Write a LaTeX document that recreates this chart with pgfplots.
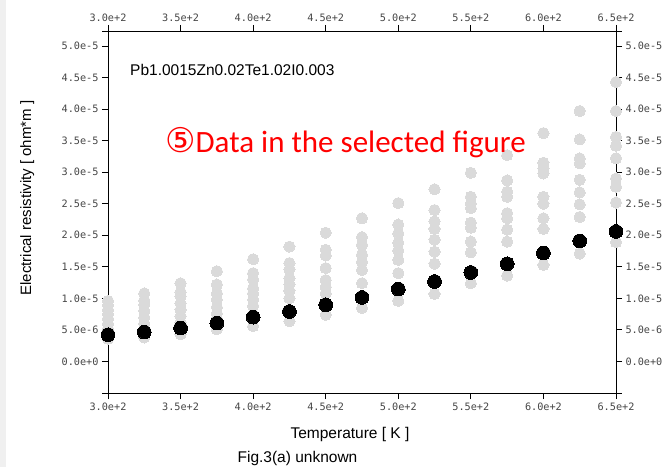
\documentclass[border=0pt]{standalone}
\usepackage{pgfplots}
\pgfplotsset{compat=1.18}
\usepackage{fontspec}
\setmainfont{Liberation Sans}
\newfontfamily\monofont{DejaVu Sans Mono}
\newfontfamily\redfont{Carlito}
\newfontfamily\symfont{DejaVu Sans}
\definecolor{tickgray}{RGB}{70,70,70}
\definecolor{dotgray}{RGB}{218,218,218}
\definecolor{stripgray}{RGB}{240,240,240}
\pgfplotsset{
  common/.style={
    at={(108bp,74bp)}, anchor=south west, scale only axis,
    width=508bp, height=362bp,
    xmin=300, xmax=650, ymin=-0.5e-5, ymax=5.238e-5,
    scaled x ticks=false, scaled y ticks=false,
    xtick={300,350,400,450,500,550,600,650},
    xticklabels={3.0e+2,3.5e+2,4.0e+2,4.5e+2,5.0e+2,5.5e+2,6.0e+2,6.5e+2},
    ytick={0,0.5e-5,1e-5,1.5e-5,2e-5,2.5e-5,3e-5,3.5e-5,4e-5,4.5e-5,5e-5},
    yticklabels={0.0e+0,5.0e-6,1.0e-5,1.5e-5,2.0e-5,2.5e-5,3.0e-5,3.5e-5,4.0e-5,4.5e-5,5.0e-5},
    tick align=outside, major tick length=6bp,
    tick style={black, line width=0.9bp},
    axis line style={black, line width=0.9bp, -, shorten <=-6bp, shorten >=-6bp},
    ticklabel style={font=\monofont\fontsize{10.2bp}{12bp}\selectfont, text=tickgray},
    clip=false,
  }
}
\begin{document}
\begin{tikzpicture}
\fill[white] (0,0) rectangle (669bp,467bp);
\fill[stripgray] (0,0) rectangle (6bp,467bp);
\useasboundingbox (0,0) rectangle (669bp,467bp);
% top/right axis
\begin{axis}[common, axis x line*=top, axis y line*=right]
\addplot[draw=none] coordinates {(300,0)};
\end{axis}
% bottom/left axis
\begin{axis}[common, axis x line*=bottom, axis y line*=left]
\addplot[draw=none] coordinates {(300,0)};
\end{axis}
% data
\begin{axis}[common, hide axis]
\addplot[only marks, color=dotgray, mark=*, mark size=5.6bp, mark options={solid, fill=dotgray, draw=dotgray, line width=0pt}] coordinates {
(300,0.96e-5)(300,0.89e-5)(300,0.82e-5)(300,0.75e-5)(300,0.68e-5)(300,0.60e-5)(300,0.52e-5)(300,0.36e-5)
(325,1.08e-5)(325,0.97e-5)(325,0.90e-5)(325,0.80e-5)(325,0.70e-5)(325,0.60e-5)(325,0.52e-5)(325,0.38e-5)
(350,1.24e-5)(350,1.10e-5)(350,1.03e-5)(350,0.92e-5)(350,0.82e-5)(350,0.72e-5)(350,0.62e-5)(350,0.43e-5)
(375,1.43e-5)(375,1.22e-5)(375,1.08e-5)(375,0.98e-5)(375,0.86e-5)(375,0.76e-5)(375,0.68e-5)(375,0.51e-5)
(400,1.62e-5)(400,1.40e-5)(400,1.30e-5)(400,1.16e-5)(400,1.08e-5)(400,0.98e-5)(400,0.88e-5)(400,0.56e-5)
(425,1.82e-5)(425,1.56e-5)(425,1.46e-5)(425,1.32e-5)(425,1.22e-5)(425,1.12e-5)(425,1.00e-5)(425,0.64e-5)
(450,2.04e-5)(450,1.77e-5)(450,1.68e-5)(450,1.48e-5)(450,1.29e-5)(450,1.18e-5)(450,1.08e-5)(450,0.74e-5)
(475,2.27e-5)(475,1.97e-5)(475,1.85e-5)(475,1.69e-5)(475,1.58e-5)(475,1.45e-5)(475,1.24e-5)(475,0.85e-5)
(500,2.51e-5)(500,2.17e-5)(500,2.03e-5)(500,1.88e-5)(500,1.76e-5)(500,1.61e-5)(500,1.40e-5)(500,0.96e-5)
(525,2.73e-5)(525,2.40e-5)(525,2.22e-5)(525,2.10e-5)(525,1.93e-5)(525,1.74e-5)(525,1.55e-5)(525,1.07e-5)
(550,2.99e-5)(550,2.61e-5)(550,2.50e-5)(550,2.43e-5)(550,2.20e-5)(550,2.12e-5)(550,1.90e-5)(550,1.73e-5)(550,1.24e-5)
(575,3.27e-5)(575,2.87e-5)(575,2.69e-5)(575,2.61e-5)(575,2.35e-5)(575,2.27e-5)(575,2.09e-5)(575,1.90e-5)(575,1.36e-5)
(600,3.62e-5)(600,3.15e-5)(600,3.06e-5)(600,2.98e-5)(600,2.61e-5)(600,2.50e-5)(600,2.27e-5)(600,2.10e-5)(600,1.53e-5)
(625,3.97e-5)(625,3.52e-5)(625,3.22e-5)(625,3.14e-5)(625,2.88e-5)(625,2.68e-5)(625,2.49e-5)(625,2.29e-5)(625,1.71e-5)
(650,4.43e-5)(650,3.97e-5)(650,3.56e-5)(650,3.42e-5)(650,3.22e-5)(650,2.90e-5)(650,2.77e-5)(650,2.52e-5)(650,1.89e-5)
};
\addplot[only marks, color=black, mark=*, mark size=6.9bp, mark options={solid, fill=black, draw=black, line width=0pt}] coordinates {
(300,0.423e-5)(325,0.466e-5)(350,0.529e-5)(375,0.608e-5)(400,0.703e-5)
(425,0.792e-5)(450,0.898e-5)(475,1.014e-5)(500,1.147e-5)(525,1.267e-5)
(550,1.410e-5)(575,1.547e-5)(600,1.720e-5)(625,1.910e-5)(650,2.060e-5)
};
\end{axis}
\node[anchor=base west, inner sep=0, font=\fontsize{15.5bp}{18bp}\selectfont] at (130bp,391bp) {Pb1.0015Zn0.02Te1.02I0.003};
\node[anchor=base west, inner sep=0, text=red] at (165bp,314bp) {{\symfont\fontsize{34bp}{36bp}\selectfont ⑤}{\redfont\fontsize{31bp}{36bp}\selectfont Data in the selected figure}};
\node[anchor=base, inner sep=0, font=\fontsize{15.5bp}{18bp}\selectfont] at (350bp,29bp) {Temperature [ K ]};
\node[anchor=base, inner sep=0, font=\fontsize{15.5bp}{18bp}\selectfont] at (297.5bp,5bp) {Fig.3(a) unknown};
\node[anchor=base, inner sep=0, rotate=90, font=\fontsize{15bp}{18bp}\selectfont] at (31bp,269bp) {Electrical resistivity [ ohm*m ]};
\end{tikzpicture}
\end{document}
